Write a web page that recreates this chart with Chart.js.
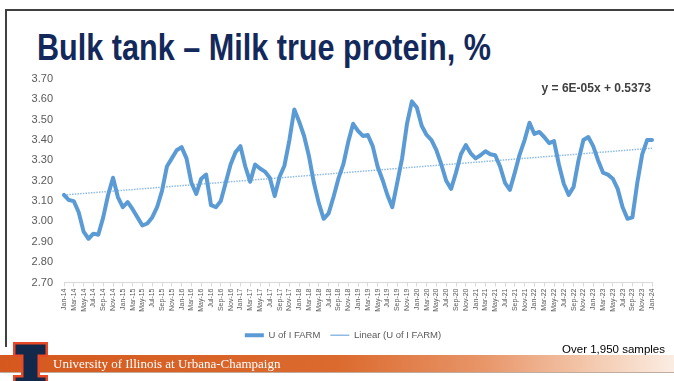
<!DOCTYPE html>
<html>
<head>
<meta charset="utf-8">
<script src="https://cdn.jsdelivr.net/npm/chart.js@4.4.1/dist/chart.umd.min.js"></script>
<style>
  html, body { margin: 0; padding: 0; background: #fff; }
  body { width: 674px; height: 381px; position: relative; overflow: hidden; font-family: "Liberation Sans", Arial, sans-serif; }
  #frame { position: absolute; left: 5px; top: 9px; width: 669px; height: 336px; border-top: 2px solid #404040; border-left: 2px solid #404040; }
  #title { position: absolute; left: 37px; top: 30px; font-size: 36px; line-height: 36px; font-weight: bold; color: #13295b; transform: scaleX(0.85); transform-origin: 0 0; white-space: nowrap; }
  #eq { position: absolute; right: 23px; top: 82px; font-size: 12px; line-height: 13px; font-weight: bold; color: #404040; white-space: nowrap; }
  #c { position: absolute; left: 0; top: 0; }
  #band { position: absolute; left: 0; top: 355px; width: 674px; height: 17px;
          background: linear-gradient(to right, #d5591e 0%, #db6a2e 50%, #e8966a 72%, #f3c7ab 87%, #fbede3 100%);
          box-shadow: 0 1px 0 rgba(110, 70, 45, 0.45); }
  #uiuc { position: absolute; left: 53px; top: 356px; font-family: "Liberation Serif", "Times New Roman", serif; font-size: 13px; line-height: 16px; color: #fff; white-space: nowrap; }
  #samples { position: absolute; right: 9px; top: 342px; font-size: 11.5px; line-height: 14px; color: #000; white-space: nowrap; }
  #logo { position: absolute; left: 13px; top: 342px; }
</style>
</head>
<body>
<div id="frame"></div>
<div id="title">Bulk tank – Milk true protein, %</div>
<canvas id="c" width="674" height="381"></canvas>
<div id="eq">y = 6E-05x + 0.5373</div>
<div id="samples">Over 1,950 samples</div>
<div id="band"></div>
<div id="uiuc">University of Illinois at Urbana-Champaign</div>
<svg id="logo" width="36" height="40" viewBox="0 0 36 40">
  <path d="M0,0 H35 V15 H27 V33 H35 V50 H0 V33 H8 V15 H0 Z" fill="#e84a27"/>
  <path d="M2.5,2.5 H32.5 V12.5 H24.5 V35.5 H32.5 V50 H2.5 V35.5 H10.5 V12.5 H2.5 Z" fill="#13294b"/>
</svg>
<script>
// Monthly categories, Jan-14 through Jan-24
const monthNames = ['Jan', 'Feb', 'Mar', 'Apr', 'May', 'Jun', 'Jul', 'Aug', 'Sep', 'Oct', 'Nov', 'Dec'];
const firstYear = 14;
const monthCount = 121;

// Bulk tank true protein (%), one value per month
const protein = [
  3.13, 3.105, 3.10, 3.045, 2.95, 2.915, 2.94, 2.935, 3.02, 3.13, 3.215, 3.12,
  3.07, 3.095, 3.06, 3.02, 2.98, 2.99, 3.02, 3.07, 3.15, 3.27, 3.31, 3.35,
  3.365, 3.31, 3.19, 3.135, 3.21, 3.23, 3.08, 3.07, 3.10, 3.19, 3.28, 3.34,
  3.37, 3.27, 3.195, 3.28, 3.26, 3.245, 3.215, 3.125, 3.22, 3.275, 3.40, 3.55,
  3.49, 3.42, 3.32, 3.19, 3.09, 3.013, 3.04, 3.12, 3.21, 3.28, 3.39, 3.48,
  3.445, 3.42, 3.425, 3.37, 3.27, 3.205, 3.13, 3.07, 3.19, 3.31, 3.48, 3.59,
  3.56, 3.47, 3.425, 3.40, 3.35, 3.28, 3.20, 3.16, 3.24, 3.33, 3.375, 3.335,
  3.31, 3.325, 3.345, 3.33, 3.325, 3.27, 3.19, 3.155, 3.24, 3.33, 3.40, 3.485,
  3.43, 3.44, 3.415, 3.385, 3.395, 3.28, 3.185, 3.13, 3.17, 3.30, 3.40, 3.415,
  3.37, 3.30, 3.24, 3.23, 3.21, 3.16, 3.07, 3.013, 3.02, 3.19, 3.33, 3.40,
  3.40
];

// Linear trend line end values
const trendStart = 3.13;
const trendEnd = 3.36;

// Y axis range and step
const yMin = 2.7;
const yMax = 3.7;
const yStep = 0.1;

const categories = [];
for (let i = 0; i < monthCount; i++) {
  categories.push(monthNames[i % 12] + '-' + (firstYear + Math.floor(i / 12)));
}

const trendPoints = [
  { x: categories[0], y: trendStart },
  { x: categories[categories.length - 1], y: trendEnd }
];

Chart.defaults.font.family = '"Liberation Sans", Arial, sans-serif';

// Nudge the legend box so its items sit centred under the plot
const legendShift = {
  id: 'legendShift',
  afterLayout(chart) {
    if (chart.legend) {
      chart.legend.left += 34;
    }
  }
};

new Chart(document.getElementById('c'), {
  type: 'line',
  data: {
    labels: categories,
    datasets: [
      {
        label: 'U of I FARM',
        data: protein,
        borderColor: '#5b9bd5',
        backgroundColor: '#5b9bd5',
        borderWidth: 4,
        pointRadius: 0,
        tension: 0,
        borderJoinStyle: 'round',
        borderCapStyle: 'round'
      },
      {
        label: 'Linear (U of I FARM)',
        data: trendPoints,
        borderColor: '#8fbbe3',
        backgroundColor: '#8fbbe3',
        borderWidth: 1.5,
        borderDash: [1.5, 1.2],
        pointRadius: 0
      }
    ]
  },
  plugins: [legendShift],
  options: {
    responsive: false,
    animation: false,
    devicePixelRatio: 1,
    layout: { padding: { left: 0, right: 22, top: 79, bottom: 31 } },
    plugins: {
      legend: {
        position: 'bottom',
        labels: {
          usePointStyle: true,
          pointStyle: 'line',
          pointStyleWidth: 19,
          font: { size: 9.5 },
          color: '#595959',
          padding: 10
        }
      },
      tooltip: { enabled: false }
    },
    scales: {
      x: {
        ticks: {
          autoSkip: false,
          maxRotation: 90,
          minRotation: 90,
          font: { size: 7 },
          color: '#595959',
          padding: 2,
          callback: function (value, index) {
            return index % 2 === 0 ? this.getLabelForValue(value) : null;
          }
        },
        grid: { display: true, drawOnChartArea: false, color: '#d9d9d9', tickLength: 4 },
        border: { display: true, color: '#d9d9d9' },
        afterFit: function (scale) { scale.height = 38; }
      },
      y: {
        min: yMin,
        max: yMax,
        ticks: {
          stepSize: yStep,
          callback: (v) => v.toFixed(2),
          font: { size: 11 },
          color: '#595959',
          padding: 11
        },
        grid: { display: false, drawTicks: false },
        border: { display: false },
        afterFit: function (scale) { scale.width = 64; }
      }
    }
  }
});
</script>
</body>
</html>
